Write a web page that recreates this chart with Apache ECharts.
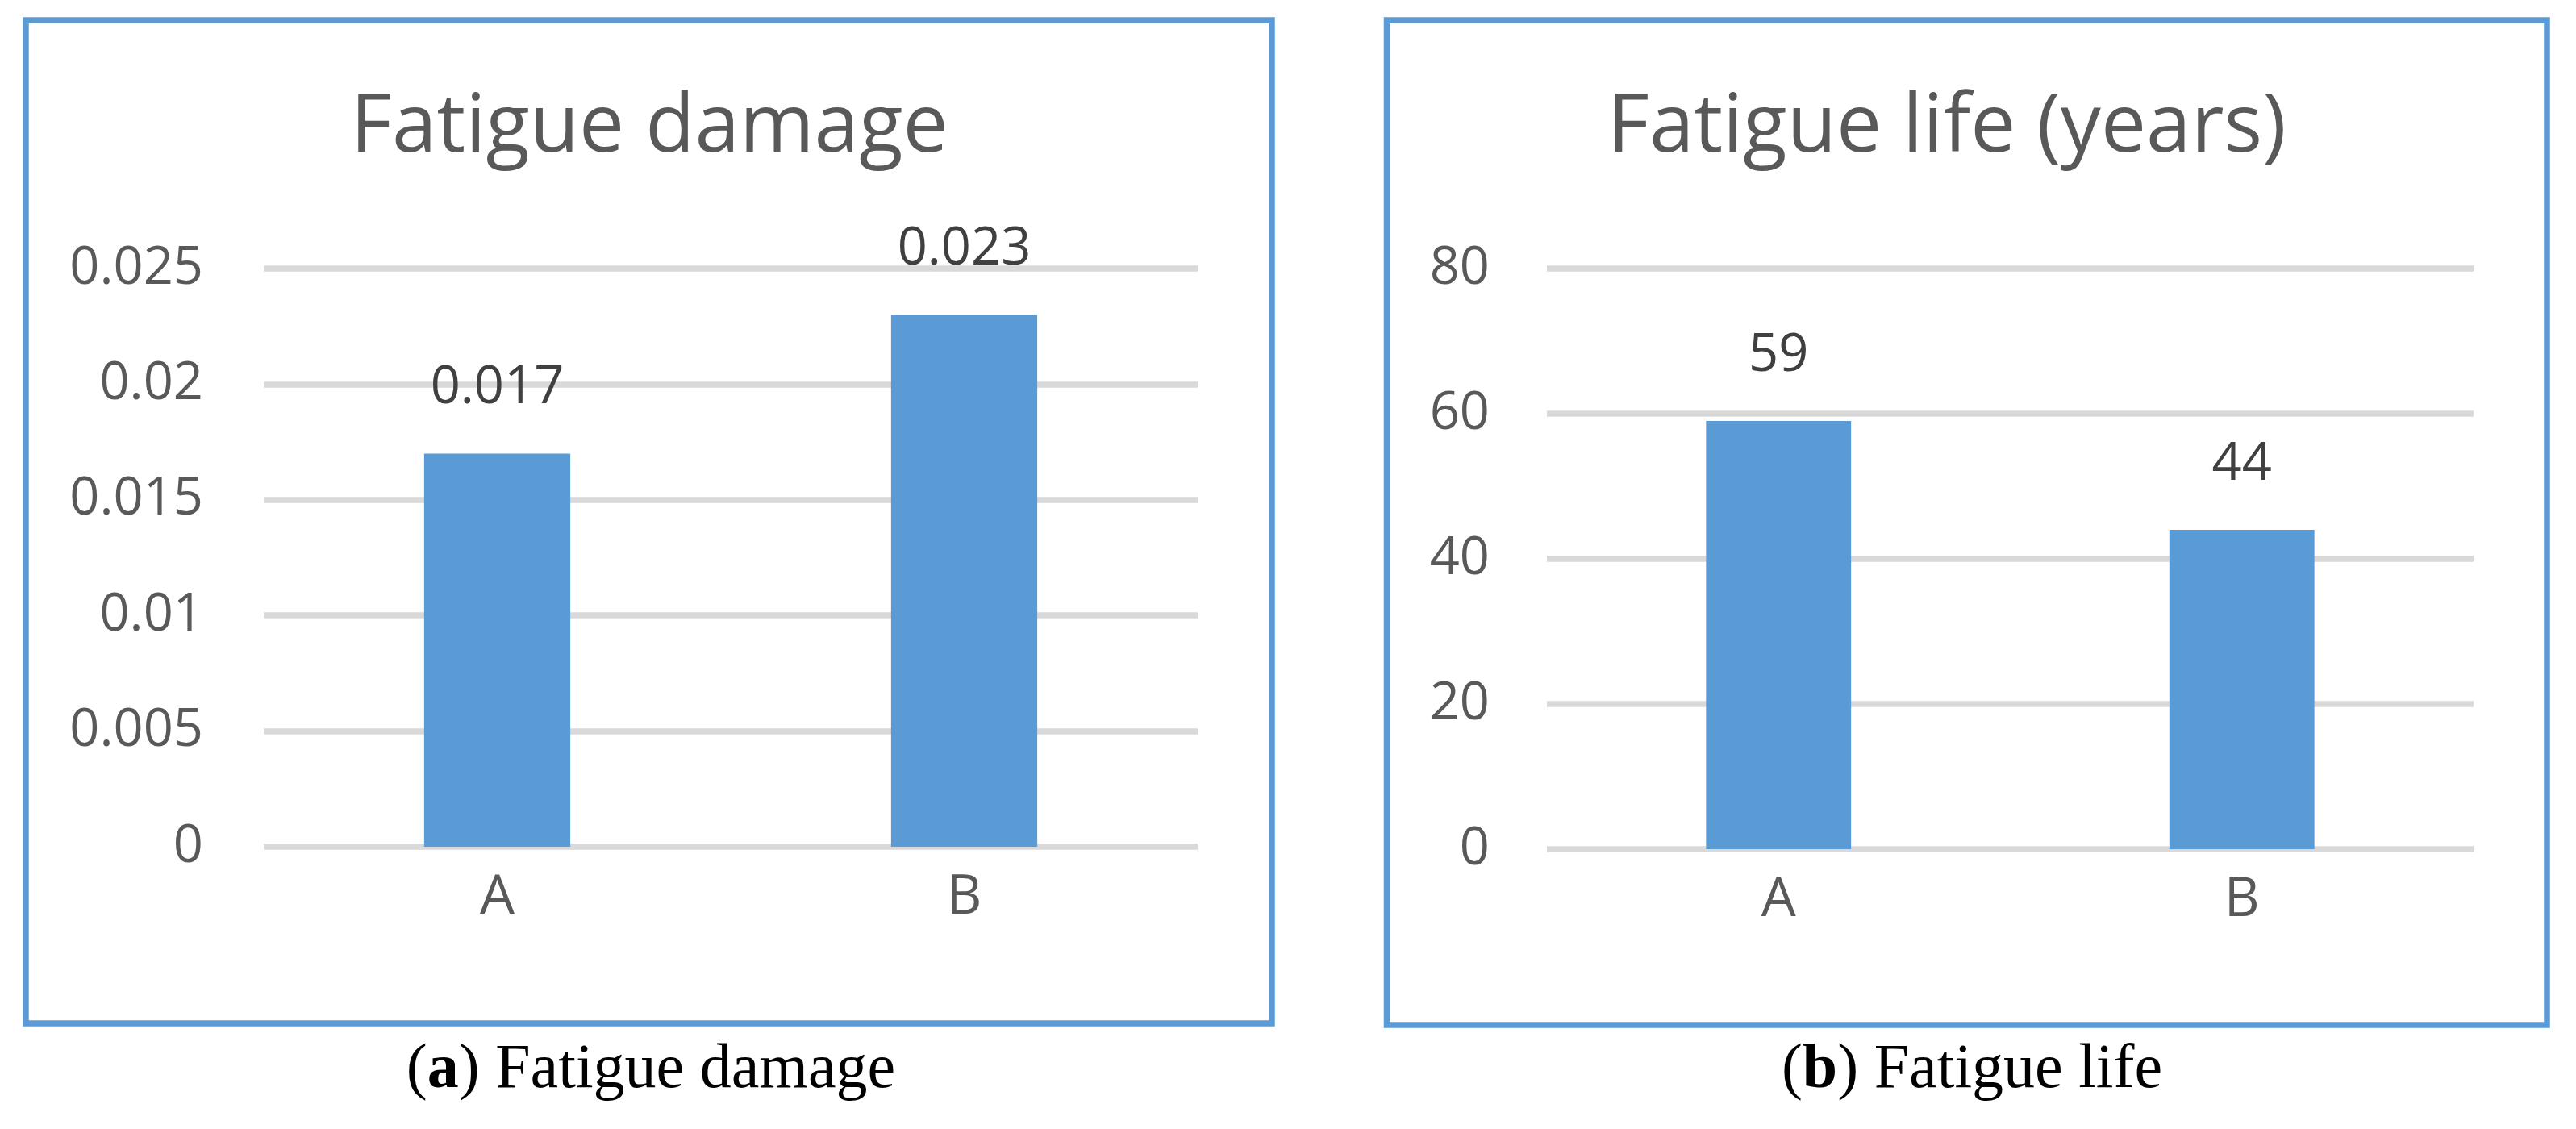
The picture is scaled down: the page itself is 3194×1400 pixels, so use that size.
<!DOCTYPE html>
<html>
<head>
<meta charset="utf-8">
<script src="https://cdn.jsdelivr.net/npm/echarts@6/dist/echarts.min.js"></script>
<style>
html,body{margin:0;padding:0;background:#fff;}
#chart{width:3194px;height:1400px;}
</style>
</head>
<body>
<div id="chart"></div>
<script>
// ---- data ----
const categories = ['A', 'B'];
const damageValues = [0.017, 0.023];
const lifeValues = [59, 44];
const damageTitle = 'Fatigue damage';
const lifeTitle = 'Fatigue life (years)';
const damageCaptionTag = 'a';
const damageCaption = ' Fatigue damage';
const lifeCaptionTag = 'b';
const lifeCaption = ' Fatigue life';
const damageAxis = { min: 0, max: 0.025, interval: 0.005 };
const lifeAxis = { min: 0, max: 80, interval: 20 };

// ---- styling ----
const FONT = 'Open Sans';
const BLUE = '#5B9BD5';
const GRID_COLOR = '#D9D9D9';
const AXIS_TEXT = '#595959';
const LABEL_TEXT = '#404040';
const TICK_SIZE = 65;
const CAT_SIZE = 68;
const TITLE_SIZE = 100;

const chart = echarts.init(document.getElementById('chart'), null, { renderer: 'canvas' });

function yAxisCfg(gridIndex, range, margin) {
  return {
    type: 'value', gridIndex: gridIndex,
    min: range.min, max: range.max, interval: range.interval,
    axisLine: { show: false }, axisTick: { show: false },
    axisLabel: { color: AXIS_TEXT, fontFamily: FONT, fontSize: TICK_SIZE, margin: margin },
    splitLine: { lineStyle: { color: GRID_COLOR, width: 7.5 } }
  };
}
function xAxisCfg(gridIndex) {
  return {
    type: 'category', gridIndex: gridIndex, data: categories,
    axisLine: { show: false }, axisTick: { show: false },
    axisLabel: { color: AXIS_TEXT, fontFamily: FONT, fontSize: CAT_SIZE, margin: 30 }
  };
}
function barSeries(idx, values) {
  return {
    type: 'bar', xAxisIndex: idx, yAxisIndex: idx, data: values,
    barWidth: '31.3%',
    itemStyle: { color: BLUE },
    label: { show: true, position: 'top', distance: 48, color: LABEL_TEXT, fontFamily: FONT, fontSize: TICK_SIZE },
    silent: true, animation: false
  };
}

const option = {
  animation: false,
  backgroundColor: '#ffffff',
  grid: [
    { left: 327, right: 3194 - 1485, top: 333, bottom: 1400 - 1050, containLabel: false },
    { left: 1918, right: 3194 - 3067, top: 333, bottom: 1400 - 1053, containLabel: false }
  ],
  xAxis: [xAxisCfg(0), xAxisCfg(1)],
  yAxis: [yAxisCfg(0, damageAxis, 75), yAxisCfg(1, lifeAxis, 71)],
  series: [barSeries(0, damageValues), barSeries(1, lifeValues)],
  graphic: [
    { type: 'rect', shape: { x: 32, y: 25, width: 1577 - 32, height: 1269 - 25 },
      style: { fill: 'none', stroke: BLUE, lineWidth: 7.5 }, z: 10 },
    { type: 'rect', shape: { x: 1719.5, y: 25, width: 3158 - 1719.5, height: 1271 - 25 },
      style: { fill: 'none', stroke: BLUE, lineWidth: 7.5 }, z: 10 },
    { type: 'text', x: 805, y: 160,
      style: { text: damageTitle, fill: AXIS_TEXT, font: TITLE_SIZE + 'px "' + FONT + '"', align: 'center', verticalAlign: 'middle' } },
    { type: 'text', x: 2414, y: 160,
      style: { text: lifeTitle, fill: AXIS_TEXT, font: TITLE_SIZE + 'px "' + FONT + '"', align: 'center', verticalAlign: 'middle' } },
    { type: 'text', x: 807, y: 1328,
      style: { text: '({b|' + damageCaptionTag + '})' + damageCaption, fill: '#000', fontFamily: 'Liberation Serif', fontSize: 78,
        align: 'center', verticalAlign: 'middle',
        rich: { b: { fontFamily: 'Liberation Serif', fontSize: 78, fontWeight: 'bold', fill: '#000' } } } },
    { type: 'text', x: 2445, y: 1328,
      style: { text: '({b|' + lifeCaptionTag + '})' + lifeCaption, fill: '#000', fontFamily: 'Liberation Serif', fontSize: 78,
        align: 'center', verticalAlign: 'middle',
        rich: { b: { fontFamily: 'Liberation Serif', fontSize: 78, fontWeight: 'bold', fill: '#000' } } } }
  ]
};
chart.setOption(option);
</script>
</body>
</html>
